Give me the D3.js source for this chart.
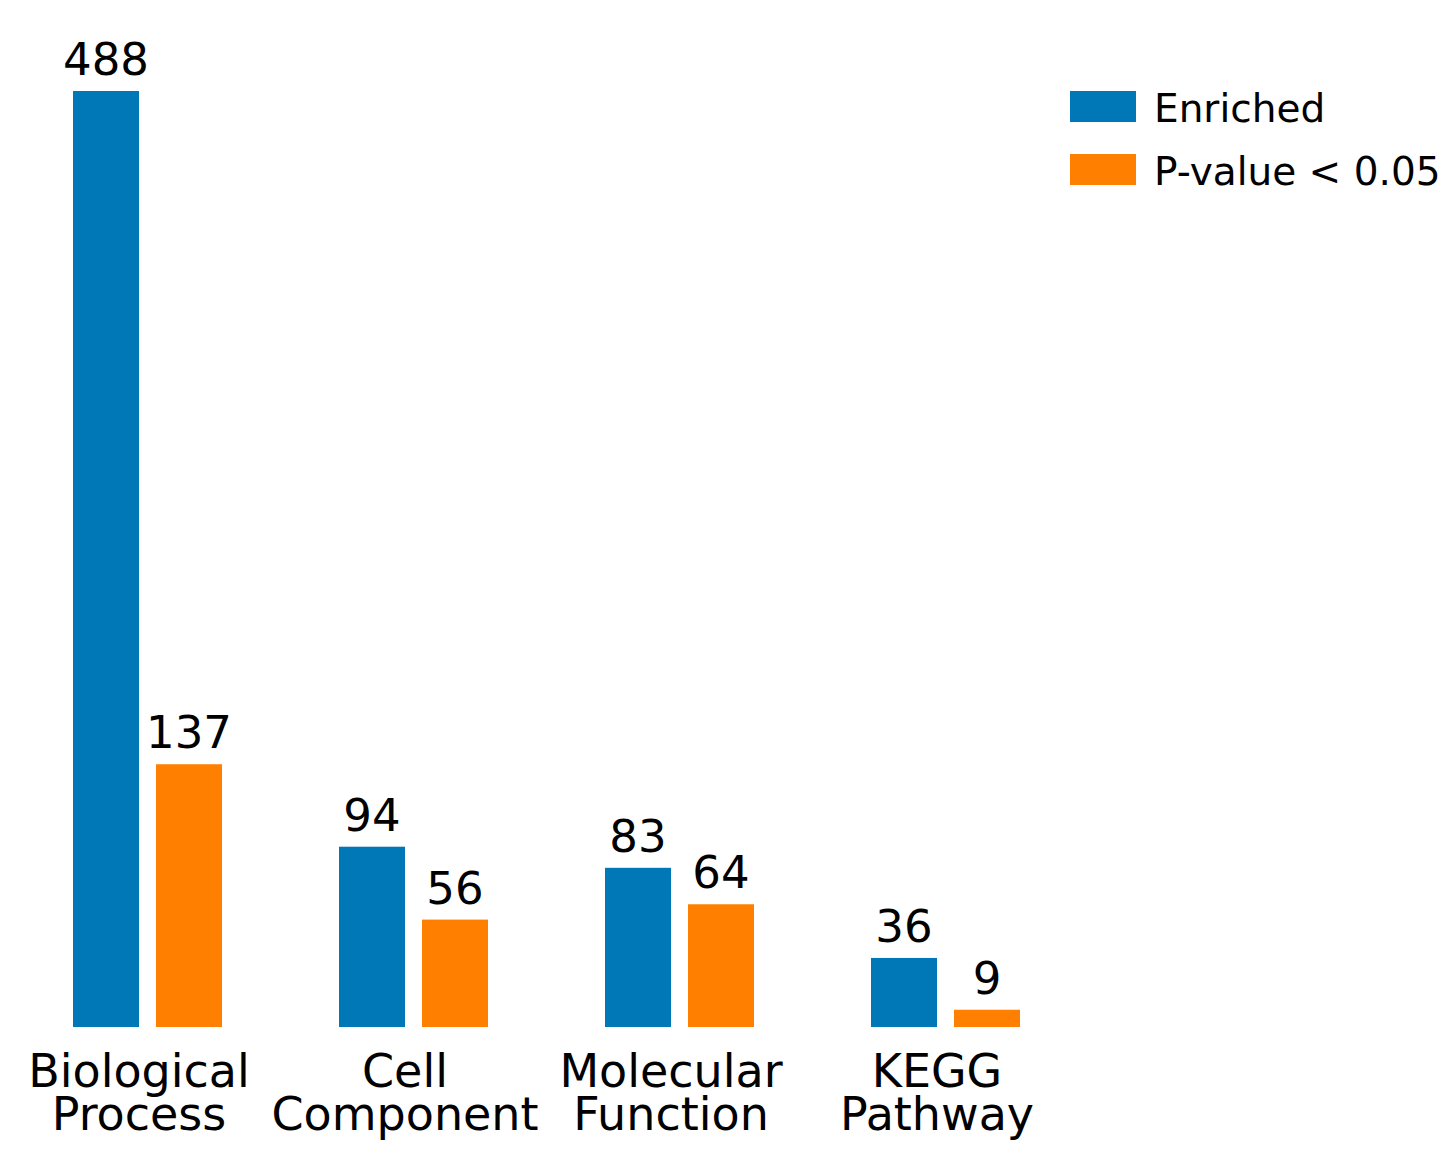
<!DOCTYPE html>
<html>
<head>
<meta charset="utf-8">
<script src="https://cdn.jsdelivr.net/npm/d3@7"></script>
<style>
  body { margin: 0; background: #fff; }
  text { font-family: "DejaVu Sans", sans-serif; fill: #000; }
</style>
</head>
<body>
<svg id="chart" width="1454" height="1174"></svg>
<script>
// chart data
var categories = [["Biological", "Process"], ["Cell", "Component"], ["Molecular", "Function"], ["KEGG", "Pathway"]];
var enriched = [488, 94, 83, 36];
var pvalue = [137, 56, 64, 9];
var series_names = ["Enriched", "P-value < 0.05"];
var colors = ["#0077b7", "#ff8000"];

var svg = d3.select("#chart");

// group positions (tick sits at the right edge of the blue bar)
var x = d3.scaleLinear().domain([0, 3]).range([139, 937]);
var y = d3.scaleLinear().domain([0, 488]).range([1027, 91]);
var bw = 66, gap = 17;

var series = [enriched, pvalue];
series.forEach(function(vals, s){
  var g = svg.append("g");
  g.selectAll("rect")
    .data(vals)
    .enter().append("rect")
    .attr("x", function(d, i){ return s == 0 ? x(i) - bw : x(i) + gap; })
    .attr("y", function(d){ return y(d); })
    .attr("width", bw)
    .attr("height", function(d){ return y(0) - y(d); })
    .attr("fill", colors[s]);

  // value labels above bars
  g.selectAll("text")
    .data(vals)
    .enter().append("text")
    .attr("x", function(d, i){ return s == 0 ? x(i) - bw / 2 : x(i) + gap + bw / 2; })
    .attr("y", function(d){ return y(d) - 16; })
    .attr("text-anchor", "middle")
    .attr("font-size", 45)
    .text(function(d){ return d; });
});

// category labels, two lines each
var lab = svg.append("g").selectAll("text")
  .data(categories)
  .enter().append("text")
  .attr("text-anchor", "middle")
  .attr("font-size", 46);
lab.each(function(d, i){
  var t = d3.select(this);
  d.forEach(function(line, k){
    t.append("tspan")
      .attr("x", x(i))
      .attr("y", 1087 + k * 43)
      .text(line);
  });
});

// legend
var leg = svg.append("g").attr("transform", "translate(1070,91)");
series_names.forEach(function(name, i){
  leg.append("rect")
    .attr("x", 0)
    .attr("y", i * 63)
    .attr("width", 66)
    .attr("height", 31)
    .attr("fill", colors[i]);
  leg.append("text")
    .attr("x", 84)
    .attr("y", i * 63 + 31)
    .attr("font-size", 39)
    .text(name);
});
</script>
</body>
</html>
